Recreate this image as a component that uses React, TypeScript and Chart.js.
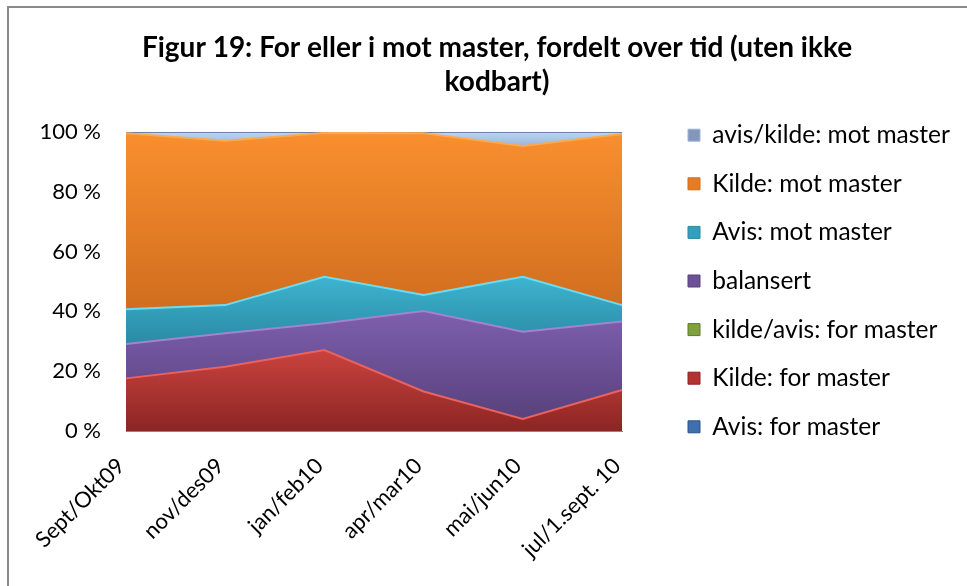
import { useEffect, useRef } from 'react';
import { Chart, registerables } from 'chart.js';

Chart.register(...registerables);

const categories = ['Sept/Okt09', 'nov/des09', 'jan/feb10', 'apr/mar10', 'mai/jun10', 'jul/1.sept. 10'];
const avisForMaster = [0, 0, 0, 0, 0, 0];
const kildeForMaster = [17.6, 21.5, 27.1, 13.2, 4.0, 13.7];
const kildeAvisForMaster = [0, 0, 0, 0, 0, 0];
const balansert = [11.5, 11.2, 8.9, 26.9, 29.2, 22.9];
const avisMotMaster = [11.6, 9.4, 15.6, 5.4, 18.4, 5.5];
const kildeMotMaster = [58.9, 55.0, 48.1, 54.1, 43.7, 57.2];
const avisKildeMotMaster = [0.4, 2.9, 0.3, 0.4, 4.7, 0.7];
const yTicks = [0, 20, 40, 60, 80, 100];
const titleLines = ['Figur 19: For eller i mot master, fordelt over tid (uten ikke', 'kodbart)'];

const seriesNames = [
  'Avis: for master',
  'Kilde: for master',
  'kilde/avis: for master',
  'balansert',
  'Avis: mot master',
  'Kilde: mot master',
  'avis/kilde: mot master',
];
const seriesData = [avisForMaster, kildeForMaster, kildeAvisForMaster, balansert, avisMotMaster, kildeMotMaster, avisKildeMotMaster];
const baseColors = ['#3F6FAE', '#B23430', '#7FA23E', '#6D5196', '#30A0BC', '#E57C25', '#8497BA'];
const topColors = ['#4F81BD', '#CA433F', '#8DB14A', '#7E5FAE', '#3EB4D0', '#F98F2E', '#BBD7F3'];
const bottomColors = ['#2E5487', '#8C2522', '#5E7A2B', '#58417C', '#2A8AA4', '#D06D1E', '#9AB5DA'];
const edgeColors = ['#2E5487', '#E9625E', '#5E7A2B', '#A283CF', '#68DDF3', '#FBA851', '#6D82A6'];

const FONT = 'Lato, "Open Sans", sans-serif';
const TICK_FONT_SIZE = 22;
const LEGEND_FONT_SIZE = 24.5;
const LEGEND_STEP = 48.6;
const LEGEND_PAD = LEGEND_STEP - LEGEND_FONT_SIZE;
const LEGEND_BOX = 12;
const LEGEND_EXTRA = 10; // Chart.js adds 10px to a vertical legend's width
const CANVAS_W = 1100;
const CANVAS_H = 602;
const PLOT_LEFT = 126;
const PLOT_RIGHT = 622;
const LEGEND_BOX_X = 688;
const TITLE_CENTER = 497;
const YLABEL_RIGHT = 101;

export default function App() {
  const ref = useRef<HTMLCanvasElement | null>(null);

  useEffect(() => {
    if (!ref.current) return;
    const mctx = document.createElement('canvas').getContext('2d')!;
    mctx.font = `${LEGEND_FONT_SIZE}px ${FONT}`;
    const textW = Math.max(...seriesNames.map((n) => mctx.measureText(n).width));
    mctx.font = `${TICK_FONT_SIZE}px ${FONT}`;
    const widestTick = Math.max(...yTicks.map((v) => mctx.measureText(`${v} %`).width));

    const legendLeft = LEGEND_BOX_X - LEGEND_PAD;
    const legendW = LEGEND_PAD + LEGEND_BOX + LEGEND_FONT_SIZE / 2 + textW + LEGEND_EXTRA;
    const legendRight = legendLeft + legendW;
    const padRight = CANVAS_W - legendRight;
    const padLeft = Math.max(0, 2 * TITLE_CENTER - legendRight);

    const lower: number[][] = [];
    const upper: number[][] = [];
    seriesData.forEach((d, i) => {
      const lo = i === 0 ? d.map(() => 0) : upper[i - 1];
      lower.push(lo);
      upper.push(d.map((v, j) => lo[j] + v));
    });

    const datasets = seriesData.map((d, i) => ({
      label: seriesNames[i],
      data: d,
      backgroundColor: (c: any) => {
        const ch = c.chart;
        const area = ch.chartArea;
        const ys = ch.scales && ch.scales.y;
        if (!area || !ys) return baseColors[i];
        const top = ys.getPixelForValue(Math.max(...upper[i]));
        let bot = ys.getPixelForValue(Math.min(...lower[i]));
        if (bot - top < 2) bot = top + 2;
        const g = ch.ctx.createLinearGradient(0, top, 0, bot);
        g.addColorStop(0, topColors[i]);
        g.addColorStop(1, bottomColors[i]);
        return g;
      },
      borderColor: edgeColors[i],
      borderWidth: d.some((v) => v > 0) ? 2 : 0,
      fill: i === 0 ? 'origin' : '-1',
      pointRadius: 0,
      pointHoverRadius: 0,
      tension: 0,
    }));

    const chart = new Chart(ref.current, {
      type: 'line',
      data: { labels: categories, datasets },
      options: {
        animation: false,
        responsive: false,
        events: [],
        layout: { padding: { left: padLeft, right: padRight, top: 0, bottom: 8 } },
        plugins: {
          title: {
            display: true,
            text: titleLines,
            color: '#000',
            font: { family: FONT, size: 28, weight: 'bold', lineHeight: 34 / 28 },
            padding: { top: 47, bottom: 33 },
          },
          legend: {
            position: 'right',
            reverse: true,
            maxWidth: 500,
            labels: {
              boxWidth: LEGEND_BOX,
              boxHeight: LEGEND_BOX,
              padding: LEGEND_PAD,
              color: '#000',
              font: { family: FONT, size: LEGEND_FONT_SIZE },
              generateLabels: (ch: any) => {
                const items = Chart.defaults.plugins.legend.labels.generateLabels(ch);
                items.forEach((it: any) => {
                  it.fillStyle = baseColors[it.datasetIndex];
                  it.strokeStyle = bottomColors[it.datasetIndex];
                  it.lineWidth = 1;
                });
                return items;
              },
            },
          },
          tooltip: { enabled: false },
        },
        scales: {
          x: {
            type: 'category',
            offset: false,
            grid: { display: false, drawTicks: false },
            border: { display: true, color: '#8a8a8a', width: 1 },
            ticks: {
              autoSkip: false,
              minRotation: 45,
              maxRotation: 45,
              padding: 22,
              labelOffset: -5,
              color: '#000',
              font: { family: FONT, size: TICK_FONT_SIZE },
            },
            afterFit: (s: any) => { s.height = 147; },
          },
          y: {
            type: 'linear',
            stacked: true,
            min: 0,
            max: 100,
            grid: { display: false, drawTicks: false },
            border: { display: true, color: '#8a8a8a', width: 1 },
            afterBuildTicks: (s: any) => { s.ticks = yTicks.map((v) => ({ value: v })); },
            ticks: {
              mirror: true,
              crossAlign: 'far',
              padding: YLABEL_RIGHT - PLOT_LEFT - widestTick,
              color: '#000',
              font: { family: FONT, size: TICK_FONT_SIZE },
              callback: (v: any) => `${v} %`,
            },
            afterFit: (s: any) => { s.width = PLOT_LEFT - padLeft; },
          },
          spacer: {
            type: 'linear',
            position: 'right',
            display: true,
            grid: { display: false, drawTicks: false },
            border: { display: false },
            ticks: { display: false },
            afterFit: (s: any) => { s.width = legendLeft - PLOT_RIGHT; },
          },
        },
      } as any,
    });
    return () => chart.destroy();
  }, []);

  return (
    <div style={{ position: 'fixed', left: 0, top: 0, width: 967, height: 586, overflow: 'hidden', background: '#fff' }}>
      <canvas ref={ref} width={CANVAS_W} height={CANVAS_H} style={{ position: 'absolute', left: 0, top: -16 }} />
      <div
        style={{
          position: 'absolute',
          left: 7,
          top: 6,
          width: 1200,
          height: 1200,
          borderLeft: '2px solid #8a8a8a',
          borderTop: '2px solid #8a8a8a',
          pointerEvents: 'none',
        }}
      />
    </div>
  );
}
